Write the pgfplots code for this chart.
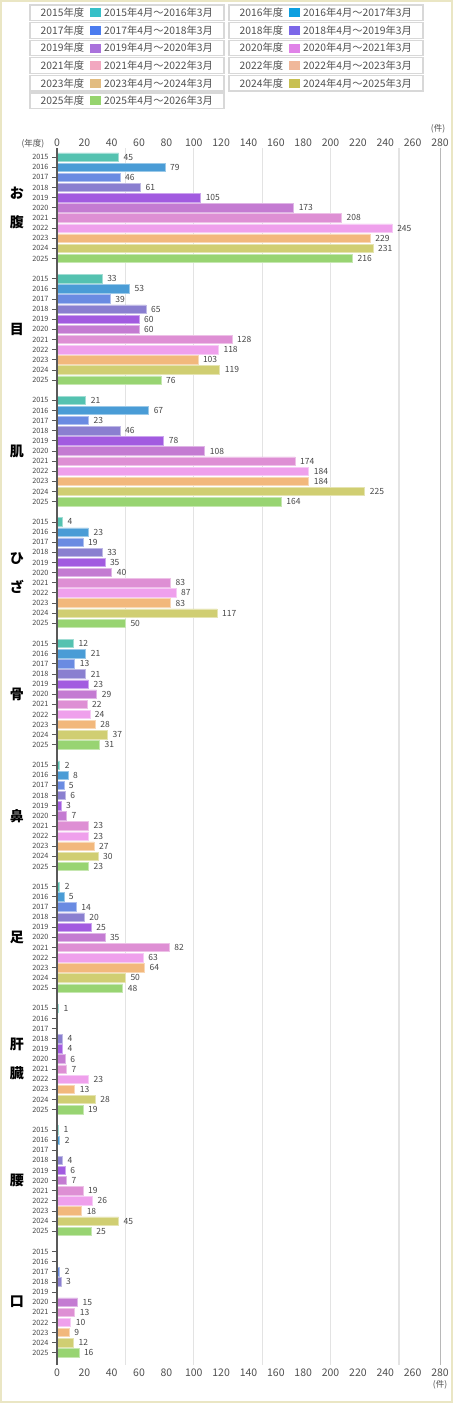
\documentclass[border=0pt]{standalone}
\usepackage{fontspec}
\setmainfont{Noto Sans CJK JP}
\usepackage{pgfplots}
\pgfplotsset{compat=1.18}
% bar colours
\definecolor{b15}{HTML}{54C2B0}
\definecolor{b16}{HTML}{4A9CD6}
\definecolor{b17}{HTML}{6A8BE2}
\definecolor{b18}{HTML}{8A7FD0}
\definecolor{b19}{HTML}{A25BE0}
\definecolor{b20}{HTML}{C47BD2}
\definecolor{b21}{HTML}{DE8FD4}
\definecolor{b22}{HTML}{EFA0EC}
\definecolor{b23}{HTML}{F2B87C}
\definecolor{b24}{HTML}{D0CE72}
\definecolor{b25}{HTML}{98D472}
% legend colours
\definecolor{l15}{HTML}{36C0C8}
\definecolor{l16}{HTML}{0C9FE0}
\definecolor{l17}{HTML}{4B7CEF}
\definecolor{l18}{HTML}{7C67E8}
\definecolor{l19}{HTML}{AA72DC}
\definecolor{l20}{HTML}{E083E8}
\definecolor{l21}{HTML}{F2A8C0}
\definecolor{l22}{HTML}{F0B89A}
\definecolor{l23}{HTML}{E2BC80}
\definecolor{l24}{HTML}{C8C052}
\definecolor{l25}{HTML}{96D46E}
\definecolor{frame}{HTML}{EAE6C4}
\definecolor{legbox}{HTML}{D8D8D8}
\definecolor{txt}{HTML}{505050}

\newcommand{\legentry}[5]{%
  \pgfmathsetmacro\ytop{1398-17.6*#2}%
  \draw[legbox,line width=1.2pt] (#1,\ytop) rectangle ++(194,-15.7);
  \node[anchor=west,inner sep=0pt,text=txt,font=\fontsize{10.3}{12}\selectfont] at (#1+10.5,\ytop-7.85) {#3年度};
  \fill[#4] (#1+59.5,\ytop-3.35) rectangle ++(11,-9);
  \node[anchor=west,inner sep=0pt,text=txt,font=\fontsize{10.3}{12}\selectfont] at (#1+74,\ytop-7.85) {#5};
}

\pgfplotsset{
  yr/.style={fill=#1, draw=#1!55!white, line width=0.6pt, bar shift=0pt, bar width=8.4pt},
  /pgf/number format/assume math mode=true,
}

\begin{document}
\begin{tikzpicture}[x=1pt,y=1pt]
\useasboundingbox (0,0) rectangle (453,1403);
\fill[white] (0,0) rectangle (453,1403);
\draw[frame,line width=2pt] (1,1) rectangle (452,1402);

\legentry{30}{0}{2015}{l15}{2015年4月～2016年3月}
\legentry{229}{0}{2016}{l16}{2016年4月～2017年3月}
\legentry{30}{1}{2017}{l17}{2017年4月～2018年3月}
\legentry{229}{1}{2018}{l18}{2018年4月～2019年3月}
\legentry{30}{2}{2019}{l19}{2019年4月～2020年3月}
\legentry{229}{2}{2020}{l20}{2020年4月～2021年3月}
\legentry{30}{3}{2021}{l21}{2021年4月～2022年3月}
\legentry{229}{3}{2022}{l22}{2022年4月～2023年3月}
\legentry{30}{4}{2023}{l23}{2023年4月～2024年3月}
\legentry{229}{4}{2024}{l24}{2024年4月～2025年3月}
\legentry{30}{5}{2025}{l25}{2025年4月～2026年3月}

\node[text=txt,font=\fontsize{8.5}{10}\selectfont] at (33,1259) {(年度)};
\node[text=txt,font=\fontsize{8.5}{10}\selectfont] at (438,1274) {(件)};
\node[text=txt,font=\fontsize{8.5}{10}\selectfont] at (440,18) {(件)};

\begin{axis}[
  at={(57pt,38pt)}, anchor=south west,
  width=383pt, height=1217pt, scale only axis,
  xmin=0, xmax=280, ymin=-0.9, ymax=119.2, y dir=reverse,
  xbar, bar shift=0pt,
  clip=false,
  axis line style={draw=none},
  xtick={0,20,...,280},
  xticklabel pos=upper,
  xtick style={draw=none},
  xticklabel style={font=\fontsize{10.5}{12}\selectfont, text=txt, yshift=-7pt},
  extra x ticks={50,100,150,200,250},
  extra x tick labels={},
  extra x tick style={grid=major, major tick length=0pt},
  major grid style={black!11, line width=1.3pt},
  ytick pos=left,
  ytick={0,1,2,3,4,5,6,7,8,9,10,12,13,14,15,16,17,18,19,20,21,22,24,25,26,27,28,29,30,31,32,33,34,36,37,38,39,40,41,42,43,44,45,46,48,49,50,51,52,53,54,55,56,57,58,60,61,62,63,64,65,66,67,68,69,70,72,73,74,75,76,77,78,79,80,81,82,84,85,86,87,88,89,90,91,92,93,94,96,97,98,99,100,101,102,103,104,105,106,108,109,110,111,112,113,114,115,116,117,118},
  yticklabel={\pgfmathparse{int(2015+mod(round(\tick),12))}\pgfmathresult},
  yticklabel style={font=\fontsize{7.3}{8}\selectfont, text=black!72},
  ytick style={draw=black!65, line width=0.8pt},
  tick align=outside, major tick length=5pt,
  nodes near coords,
  every node near coord/.append style={font=\fontsize{8.5}{9}\selectfont, text=black!72, anchor=west, xshift=1.5pt},
]
% 2015
\addplot[yr=b15] coordinates {(45,0) (33,12) (21,24) (4,36) (12,48) (2,60) (2,72) (1,84) (1,96)};
% 2016
\addplot[yr=b16] coordinates {(79,1) (53,13) (67,25) (23,37) (21,49) (8,61) (5,73) (2,97)};
% 2017
\addplot[yr=b17] coordinates {(46,2) (39,14) (23,26) (19,38) (13,50) (5,62) (14,74) (2,110)};
% 2018
\addplot[yr=b18] coordinates {(61,3) (65,15) (46,27) (33,39) (21,51) (6,63) (20,75) (4,87) (4,99) (3,111)};
% 2019
\addplot[yr=b19] coordinates {(105,4) (60,16) (78,28) (35,40) (23,52) (3,64) (25,76) (4,88) (6,100)};
% 2020
\addplot[yr=b20] coordinates {(173,5) (60,17) (108,29) (40,41) (29,53) (7,65) (35,77) (6,89) (7,101) (15,113)};
% 2021
\addplot[yr=b21] coordinates {(208,6) (128,18) (174,30) (83,42) (22,54) (23,66) (82,78) (7,90) (19,102) (13,114)};
% 2022
\addplot[yr=b22] coordinates {(245,7) (118,19) (184,31) (87,43) (24,55) (23,67) (63,79) (23,91) (26,103) (10,115)};
% 2023
\addplot[yr=b23] coordinates {(229,8) (103,20) (184,32) (83,44) (28,56) (27,68) (64,80) (13,92) (18,104) (9,116)};
% 2024
\addplot[yr=b24] coordinates {(231,9) (119,21) (225,33) (117,45) (37,57) (30,69) (50,81) (28,93) (45,105) (12,117)};
% 2025
\addplot[yr=b25] coordinates {(216,10) (76,22) (164,34) (50,46) (31,58) (23,70) (48,82) (19,94) (25,106) (16,118)};

\draw[black!65, line width=1.3pt] (rel axis cs:0,0) -- (rel axis cs:0,1);
\draw[black!28, line width=1pt] (rel axis cs:1,0) -- (rel axis cs:1,1);

\tikzset{cat/.style={xshift=-40pt, align=center, text=black, font=\fontsize{14}{29}\selectfont\bfseries}}
\node[cat] at (axis cs:0,5) {お\\腹};
\node[cat] at (axis cs:0,17) {目};
\node[cat] at (axis cs:0,29) {肌};
\node[cat] at (axis cs:0,41) {ひ\\ざ};
\node[cat] at (axis cs:0,53) {骨};
\node[cat] at (axis cs:0,65) {鼻};
\node[cat] at (axis cs:0,77) {足};
\node[cat] at (axis cs:0,89) {肝\\臓};
\node[cat] at (axis cs:0,101) {腰};
\node[cat] at (axis cs:0,113) {口};
\end{axis}

\begin{axis}[
  at={(57pt,38pt)}, anchor=south west,
  width=383pt, height=1217pt, scale only axis,
  xmin=0, xmax=280, ymin=-0.9, ymax=119.2, y dir=reverse,
  axis line style={draw=none},
  xtick={0,20,...,280},
  xticklabel pos=lower,
  xtick style={draw=none},
  xticklabel style={font=\fontsize{10.5}{12}\selectfont, text=txt},
  ytick=\empty,
]
\end{axis}
\end{tikzpicture}
\end{document}
